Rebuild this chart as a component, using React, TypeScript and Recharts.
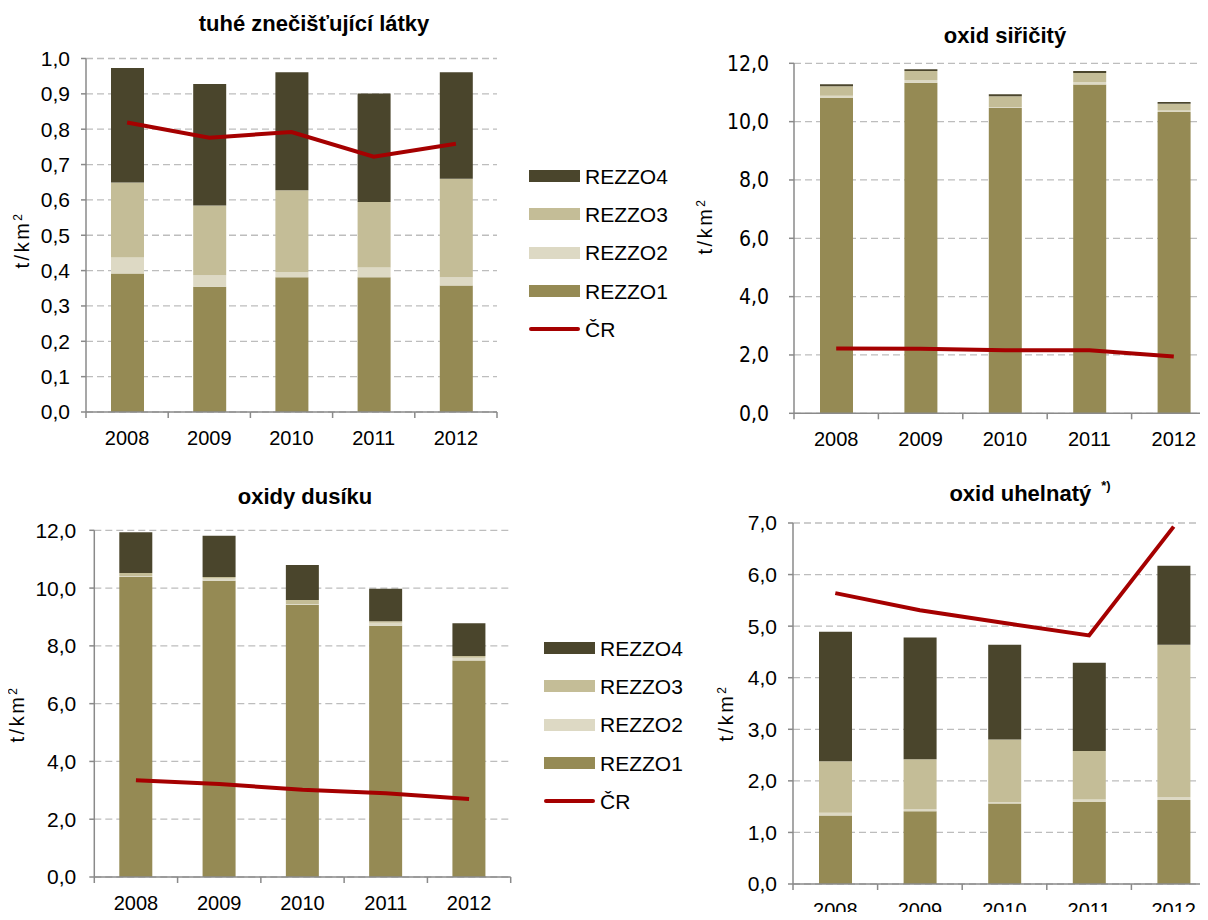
import { Bar, CartesianGrid, ComposedChart, Legend, Line, XAxis, YAxis } from 'recharts';

const years = ['2008', '2009', '2010', '2011', '2012'];

// tuhé znečišťující látky
const tzlR1 = [0.392, 0.354, 0.381, 0.381, 0.358];
const tzlR2 = [0.045, 0.033, 0.015, 0.028, 0.023];
const tzlR3 = [0.212, 0.197, 0.231, 0.185, 0.279];
const tzlR4 = [0.324, 0.344, 0.334, 0.307, 0.301];
const tzlCR = [0.819, 0.776, 0.792, 0.722, 0.759];
const tzlTicks = [0, 0.1, 0.2, 0.3, 0.4, 0.5, 0.6, 0.7, 0.8, 0.9, 1.0];

// oxid siřičitý
const so2R1 = [10.81, 11.33, 10.47, 11.27, 10.33];
const so2R2 = [0.08, 0.1, 0.02, 0.09, 0.05];
const so2R3 = [0.32, 0.31, 0.38, 0.31, 0.23];
const so2R4 = [0.07, 0.06, 0.07, 0.07, 0.06];
const so2CR = [2.22, 2.21, 2.16, 2.16, 1.95];
const so2Ticks = [0, 2, 4, 6, 8, 10, 12];

// oxidy dusíku
const noxR1 = [10.38, 10.25, 9.42, 8.7, 7.49];
const noxR2 = [0.04, 0.08, 0.03, 0.1, 0.1];
const noxR3 = [0.1, 0.05, 0.14, 0.05, 0.06];
const noxR4 = [1.41, 1.43, 1.21, 1.13, 1.13];
const noxCR = [3.35, 3.22, 3.02, 2.9, 2.7];
const noxTicks = [0, 2, 4, 6, 8, 10, 12];

// oxid uhelnatý
const coR1 = [1.33, 1.41, 1.56, 1.59, 1.63];
const coR2 = [0.05, 0.04, 0.03, 0.05, 0.05];
const coR3 = [1.0, 0.97, 1.21, 0.94, 2.96];
const coR4 = [2.51, 2.36, 1.84, 1.71, 1.53];
const coCR = [5.64, 5.31, 5.06, 4.82, 6.93];
const coTicks = [0, 1, 2, 3, 4, 5, 6, 7];

const seriesNames = { r1: 'REZZO1', r2: 'REZZO2', r3: 'REZZO3', r4: 'REZZO4', cr: 'ČR' };
const legendOrder = ['r4', 'r3', 'r2', 'r1', 'cr'];

const COLORS = { r1: '#958a54', r2: '#ddd9c4', r3: '#c4bd97', r4: '#4a452c', cr: '#a50000' };
const AXIS = '#8a8a8a';
const FONT = "'Liberation Sans', Arial, sans-serif";

const build = (r1: number[], r2: number[], r3: number[], r4: number[], cr: number[]) =>
  years.map((year, i) => ({ year, r1: r1[i], r2: r2[i], r3: r3[i], r4: r4[i], cr: cr[i] }));

const comma = (v: number) => v.toFixed(1).replace('.', ',');

const YW = 60;
const XH = 30;

const LegendBox = ({ payload }: any) => {
  const items = legendOrder
    .map((k) => (payload || []).find((p: any) => p.dataKey === k))
    .filter(Boolean);
  return (
    <div style={{ fontFamily: FONT }}>
      {items.map((p: any) => (
        <div key={p.dataKey} style={{ display: 'flex', alignItems: 'center', height: 38.3 }}>
          <div
            style={{
              width: 51,
              height: p.dataKey === 'cr' ? 4 : 12,
              borderRadius: p.dataKey === 'cr' ? 2 : 0,
              background: COLORS[p.dataKey as keyof typeof COLORS],
              marginRight: 5,
            }}
          />
          <span style={{ fontSize: 21, color: '#000', lineHeight: 1 }}>{seriesNames[p.dataKey as keyof typeof seriesNames]}</span>
        </div>
      ))}
    </div>
  );
};

interface PanelProps {
  data: ReturnType<typeof build>;
  ticks: number[];
  box: { left: number; top: number; width: number; height: number };
  margin: { top: number; right: number; bottom: number; left: number };
  legendAt?: { left: number; top: number };
  tickGap: number;
  yFont?: string;
}

const Panel = ({ data, ticks, box, margin, legendAt, tickGap, yFont }: PanelProps) => {
  const bw = (box.width - margin.left - margin.right - YW) / years.length;
  const YearTick = ({ x, y, payload, index }: any) => (
    <g>
      <line x1={x - bw / 2} y1={y} x2={x - bw / 2} y2={y + 6} stroke={AXIS} strokeWidth={1.5} />
      {index === years.length - 1 && (
        <line x1={x + bw / 2} y1={y} x2={x + bw / 2} y2={y + 6} stroke={AXIS} strokeWidth={1.5} />
      )}
      <text x={x} y={y + 18.5} dy="0.71em" textAnchor="middle" fontSize={20} fill="#000" fontFamily={FONT}>
        {payload.value}
      </text>
    </g>
  );
  return (
    <div style={{ position: 'absolute', left: box.left, top: box.top }}>
      <ComposedChart width={box.width} height={box.height} data={data} margin={margin}>
        <CartesianGrid vertical={false} stroke="#bdbdbd" strokeWidth={1.3} strokeDasharray="7 4" />
        <XAxis
          dataKey="year"
          height={XH}
          interval={0}
          tickLine={false}
          tickSize={0}
          tickMargin={0}
          axisLine={{ stroke: AXIS, strokeWidth: 1.5 }}
          tick={<YearTick />}
        />
        <YAxis
          width={YW}
          type="number"
          domain={[0, ticks[ticks.length - 1]]}
          ticks={ticks}
          interval={0}
          tickFormatter={comma}
          tickSize={5}
          tickMargin={tickGap}
          axisLine={{ stroke: AXIS, strokeWidth: 1.5 }}
          tickLine={{ stroke: AXIS, strokeWidth: 1.5 }}
          tick={{ fontSize: 21, fill: '#000', fontFamily: yFont || FONT }}
        />
        <Bar dataKey="r1" name={seriesNames.r1} stackId="a" fill={COLORS.r1} barSize={33} isAnimationActive={false} />
        <Bar dataKey="r2" name={seriesNames.r2} stackId="a" fill={COLORS.r2} barSize={33} isAnimationActive={false} />
        <Bar dataKey="r3" name={seriesNames.r3} stackId="a" fill={COLORS.r3} barSize={33} isAnimationActive={false} />
        <Bar dataKey="r4" name={seriesNames.r4} stackId="a" fill={COLORS.r4} barSize={33} isAnimationActive={false} />
        <Line
          dataKey="cr"
          name={seriesNames.cr}
          type="linear"
          stroke={COLORS.cr}
          strokeWidth={4}
          dot={false}
          activeDot={false}
          isAnimationActive={false}
        />
        {legendAt && (
          <Legend
            layout="vertical"
            align="center"
            verticalAlign="middle"
            content={<LegendBox />}
            wrapperStyle={{ left: legendAt.left, top: legendAt.top, width: 'auto', height: 'auto' }}
          />
        )}
      </ComposedChart>
    </div>
  );
};

const Title = ({ cx, top, children }: { cx: number; top: number; children: any }) => (
  <div
    style={{
      position: 'absolute',
      left: cx - 200,
      top,
      width: 400,
      textAlign: 'center',
      fontWeight: 'bold',
      fontSize: 22,
      lineHeight: 1,
      whiteSpace: 'nowrap',
    }}
  >
    {children}
  </div>
);

const Unit = ({ cx, cy }: { cx: number; cy: number }) => (
  <div
    style={{
      position: 'absolute',
      left: cx,
      top: cy,
      transform: 'translate(-50%, -50%) rotate(-90deg)',
      fontSize: 20,
      lineHeight: 1,
      whiteSpace: 'nowrap',
      letterSpacing: 2.5,
    }}
  >
    t/km<span style={{ fontSize: 12, position: 'relative', top: -7 }}>2</span>
  </div>
);

export default function App() {
  return (
    <div
      style={{
        position: 'relative',
        margin: -8,
        width: 1208,
        height: 920,
        overflow: 'hidden',
        background: '#fff',
        fontFamily: FONT,
        color: '#000',
      }}
    >
      <Panel
        data={build(tzlR1, tzlR2, tzlR3, tzlR4, tzlCR)}
        ticks={tzlTicks}
        box={{ left: 0, top: 0, width: 700, height: 460 }}
        margin={{ top: 58.5, right: 203, bottom: 18, left: 26 }}
        legendAt={{ left: 529, top: 157 }}
        tickGap={11}
      />
      <Panel
        data={build(so2R1, so2R2, so2R3, so2R4, so2CR)}
        ticks={so2Ticks}
        box={{ left: 700, top: 0, width: 540, height: 460 }}
        margin={{ top: 63.3, right: 24, bottom: 16.7, left: 34 }}
        tickGap={20}
        yFont="'Liberation Sans Narrow', 'DejaVu Sans Condensed', 'Liberation Sans', sans-serif"
      />
      <Panel
        data={build(noxR1, noxR2, noxR3, noxR4, noxCR)}
        ticks={noxTicks}
        box={{ left: 0, top: 460, width: 700, height: 460 }}
        margin={{ top: 70.3, right: 189.3, bottom: 13, left: 34.3 }}
        legendAt={{ left: 544, top: 169 }}
        tickGap={13}
      />
      <Panel
        data={build(coR1, coR2, coR3, coR4, coCR)}
        ticks={coTicks}
        box={{ left: 700, top: 460, width: 540, height: 460 }}
        margin={{ top: 63, right: 24, bottom: 6, left: 33 }}
        tickGap={11}
      />

      <Title cx={314} top={13}>tuhé znečišťující látky</Title>
      <Title cx={1005} top={24.5}>oxid siřičitý</Title>
      <Title cx={305} top={486}>oxidy dusíku</Title>
      <Title cx={1030} top={483}>
        oxid uhelnatý
        <span style={{ fontSize: 13, verticalAlign: 'top', marginLeft: 10, position: 'relative', top: -4 }}>*)</span>
      </Title>

      <Unit cx={21.5} cy={240} />
      <Unit cx={705} cy={226} />
      <Unit cx={17} cy={714} />
      <Unit cx={726} cy={713} />
    </div>
  );
}
